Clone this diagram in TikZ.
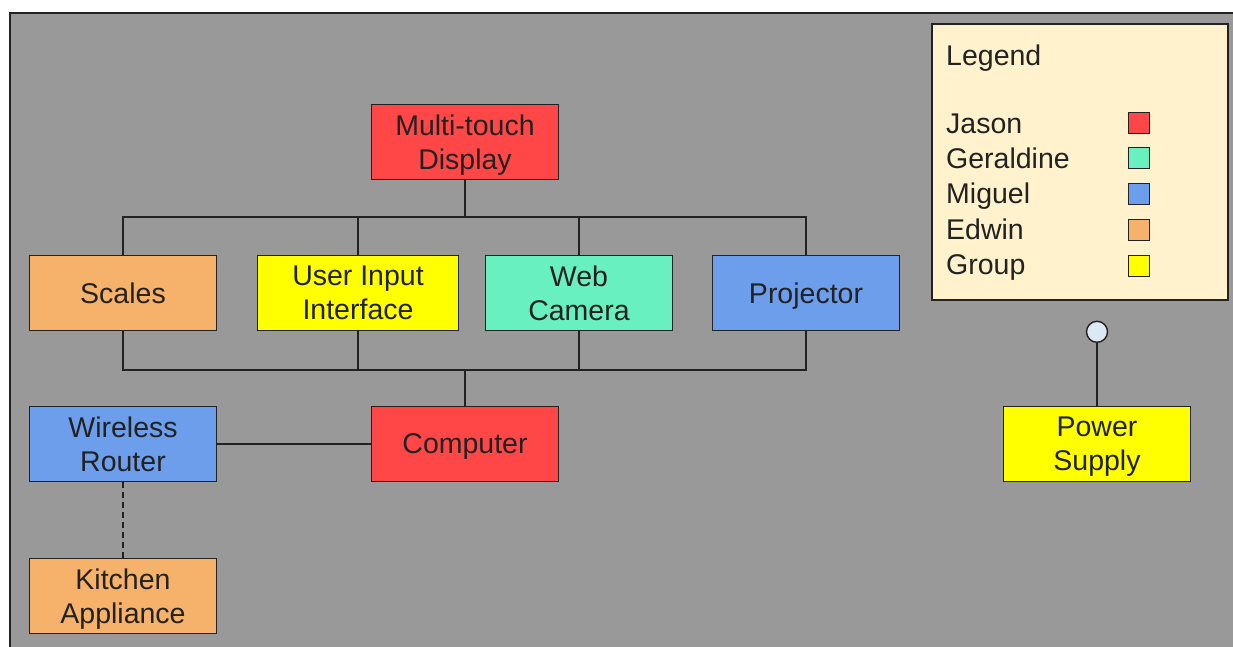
\documentclass[tikz,border=0pt]{standalone}
\usepackage{fontspec}
\setmainfont{Liberation Sans}
\usetikzlibrary{positioning}

\definecolor{bggray}{HTML}{999999}
\definecolor{jasonred}{HTML}{FF4747}
\definecolor{geraldinegreen}{HTML}{69F0C1}
\definecolor{miguelblue}{HTML}{6D9EEB}
\definecolor{edwinorange}{HTML}{F6B26B}
\definecolor{groupyellow}{HTML}{FFFF00}
\definecolor{legendcream}{HTML}{FFF2CC}
\definecolor{plugblue}{HTML}{DCE9F5}
\definecolor{ink}{HTML}{222222}

\tikzset{
    part/.style={draw=ink, line width=1.4pt, minimum width=186.6pt, minimum height=74.6pt, inner sep=2pt, align=center, text depth=0pt, text=ink, font=\fontsize{28.5}{34}\selectfont},
    wire/.style={draw=ink, line width=1.4pt},
    lbl/.style={anchor=base west, inner sep=0pt, text=ink, font=\fontsize{28.5}{34}\selectfont},
    key/.style={draw=ink, line width=1.2pt, minimum size=21pt, inner sep=0pt},
}

\begin{document}
\begin{tikzpicture}[x=1pt, y=-1pt]

    \useasboundingbox (0,0) rectangle (1233,647);
    \clip (0,0) rectangle (1233,647);
    \fill[white] (0,0) rectangle (1233,647); % white margin
    \draw[fill=bggray, draw=ink, line width=1.5pt] (10,13) rectangle (1260,670); % gray sheet

    \node[part, fill=jasonred] (disp) at (465,142) {Multi-touch\\Display}; % display at top
    \node[part, fill=edwinorange] (scales) at (123,293) {Scales}; % left of row
    \node[part, fill=groupyellow, minimum width=200.6pt, right=40pt of scales] (uii) {User Input\\Interface};
    \node[part, fill=geraldinegreen, right=26pt of uii] (cam) {Web\\Camera};
    \node[part, fill=miguelblue, right=39pt of cam] (proj) {Projector};
    \node[part, fill=jasonred] (comp) at (465,444) {Computer}; % computer under the row
    \node[part, fill=miguelblue, left=154pt of comp] (router) {Wireless\\Router};
    \node[part, fill=edwinorange, below=76pt of router] (kitchen) {Kitchen\\Appliance};
    \node[part, fill=groupyellow] (power) at (1097,444) {Power\\Supply}; % power on the right
    \node[circle, draw=ink, line width=1.4pt, fill=plugblue, minimum size=21pt, inner sep=0pt, above=63pt of power] (plug) {}; % plug circle

    \coordinate (topbus) at (465,217); % upper bus
    \coordinate (lowbus) at (465,370); % lower bus

    \draw[wire] (disp) -- (topbus);
    \draw[wire] (scales.north) |- (topbus) -| (proj.north);
    \draw[wire] (uii.north) -- (uii.north |- topbus);
    \draw[wire] (cam.north) -- (cam.north |- topbus);
    \draw[wire] (scales.south) |- (lowbus) -| (proj.south);
    \draw[wire] (uii.south) -- (uii.south |- lowbus);
    \draw[wire] (cam.south) -- (cam.south |- lowbus);
    \draw[wire] (lowbus) -- (comp);
    \draw[wire] (router) -- (comp);
    \draw[wire, line width=1.3pt, dash pattern=on 6pt off 4pt] (router) -- (kitchen);
    \draw[wire] (plug) -- (power);

    % legend
    \node[draw=ink, line width=1.4pt, fill=legendcream, minimum width=296pt, minimum height=276pt, inner sep=0pt] (legend) at (1080,162) {};
    \node[lbl] (legendtitle) at (946,66) {Legend};
    \node[lbl] (jason) at (946,134) {Jason};          \node[key, fill=jasonred] (jasonkey) at (1139,123) {};
    \node[lbl] (geraldine) at (946,169) {Geraldine};  \node[key, fill=geraldinegreen] (geraldinekey) at (1139,158) {};
    \node[lbl] (miguel) at (946,204) {Miguel};        \node[key, fill=miguelblue] (miguelkey) at (1139,194) {};
    \node[lbl] (edwin) at (946,239) {Edwin};          \node[key, fill=edwinorange] (edwinkey) at (1139,230) {};
    \node[lbl] (group) at (946,274) {Group};          \node[key, fill=groupyellow] (groupkey) at (1139,266) {};

\end{tikzpicture}
\end{document}
